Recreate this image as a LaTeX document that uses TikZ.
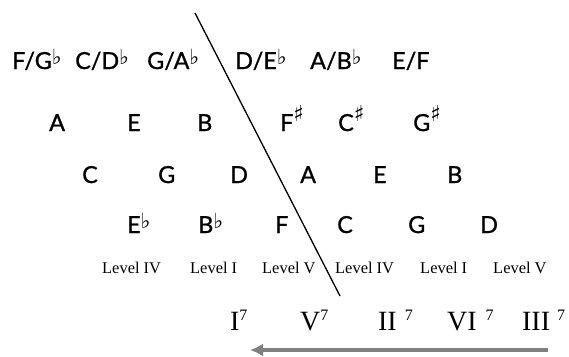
\documentclass[tikz,border=0pt]{standalone}
\usepackage{fontspec}
\usetikzlibrary{arrows.meta}
\setmainfont{Lato}[FakeBold=1]
\newfontfamily\serifnum{Liberation Serif}
\newfontfamily\symfont{DejaVu Sans}
\newcommand{\fl}{\raisebox{5bp}{\fontsize{21}{21}\selectfont\symfont ♭}}
\newcommand{\shp}{\raisebox{10bp}{\fontsize{22}{22}\selectfont\symfont ♯}}
\newcommand{\sev}{\raisebox{10bp}{\fontsize{16}{16}\selectfont 7}}
\begin{document}
\begin{tikzpicture}[x=1bp,y=-1bp,
  note/.style={anchor=base west,inner sep=0,font=\fontsize{23.5}{26}\selectfont},
  lvl/.style={anchor=base west,inner sep=0,font=\fontsize{16.5}{18}\selectfont\serifnum},
  chord/.style={anchor=base west,inner sep=0,font=\fontsize{28}{30}\selectfont\serifnum}]
\useasboundingbox (0,0) rectangle (569,356);
% row 1
\node[note] (r1a) at (12,69) {F/G\fl};
\node[note] (r1b) at (75,69) {C/D\fl};
\node[note] (r1c) at (147,69) {G/A\fl};
\node[note] (r1d) at (235,69) {D/E\fl};
\node[note] (r1e) at (310,69) {A/B\fl};
\node[note] (r1f) at (392,69) {E/F};
% row 2
\node[note] (r2a) at (49,131) {A};
\node[note] (r2b) at (127,131) {E};
\node[note] (r2c) at (197,131) {B};
\node[note] (r2d) at (280,131) {F\shp};
\node[note] (r2e) at (338,131) {C\shp};
\node[note] (r2f) at (413,131) {G\shp};
% row 3
\node[note] (r3a) at (82,183) {C};
\node[note] (r3b) at (158,183) {G};
\node[note] (r3c) at (230,183) {D};
\node[note] (r3d) at (300,183) {A};
\node[note] (r3e) at (373,183) {E};
\node[note] (r3f) at (447,183) {B};
% row 4
\node[note] (r4a) at (127,233) {E\fl};
\node[note] (r4b) at (198,233) {B\fl};
\node[note] (r4c) at (275,233) {F};
\node[note] (r4d) at (337,233) {C};
\node[note] (r4e) at (408,233) {G};
\node[note] (r4f) at (480,233) {D};
% levels
\node[lvl] (l1) at (102,273) {Level IV};
\node[lvl] (l2) at (190,273) {Level I};
\node[lvl] (l3) at (262,273) {Level V};
\node[lvl] (l4) at (335,273) {Level IV};
\node[lvl] (l5) at (420,273) {Level I};
\node[lvl] (l6) at (493,273) {Level V};
% chords
\node[chord] (c1) at (230,330) {I\sev};
\node[chord] (c2) at (300,330) {V\sev};
\node[chord] (c3) at (378,330) {II\hspace{8bp}\sev};
\node[chord] (c4) at (447,330) {VI\hspace{9bp}\sev};
\node[chord] (c5) at (522,330) {III\hspace{7bp}\sev};
% divider
\coordinate (top) at (195,13);
\coordinate (bot) at (340,296);
\draw[line width=1.3bp] (top) -- (bot);
% arrow
\coordinate (as) at (548,350);
\coordinate (ae) at (250,350);
\draw[line width=4bp,color=black!50,-{Latex[length=13bp,width=13bp]}] (as) -- (ae);
\end{tikzpicture}
\end{document}
